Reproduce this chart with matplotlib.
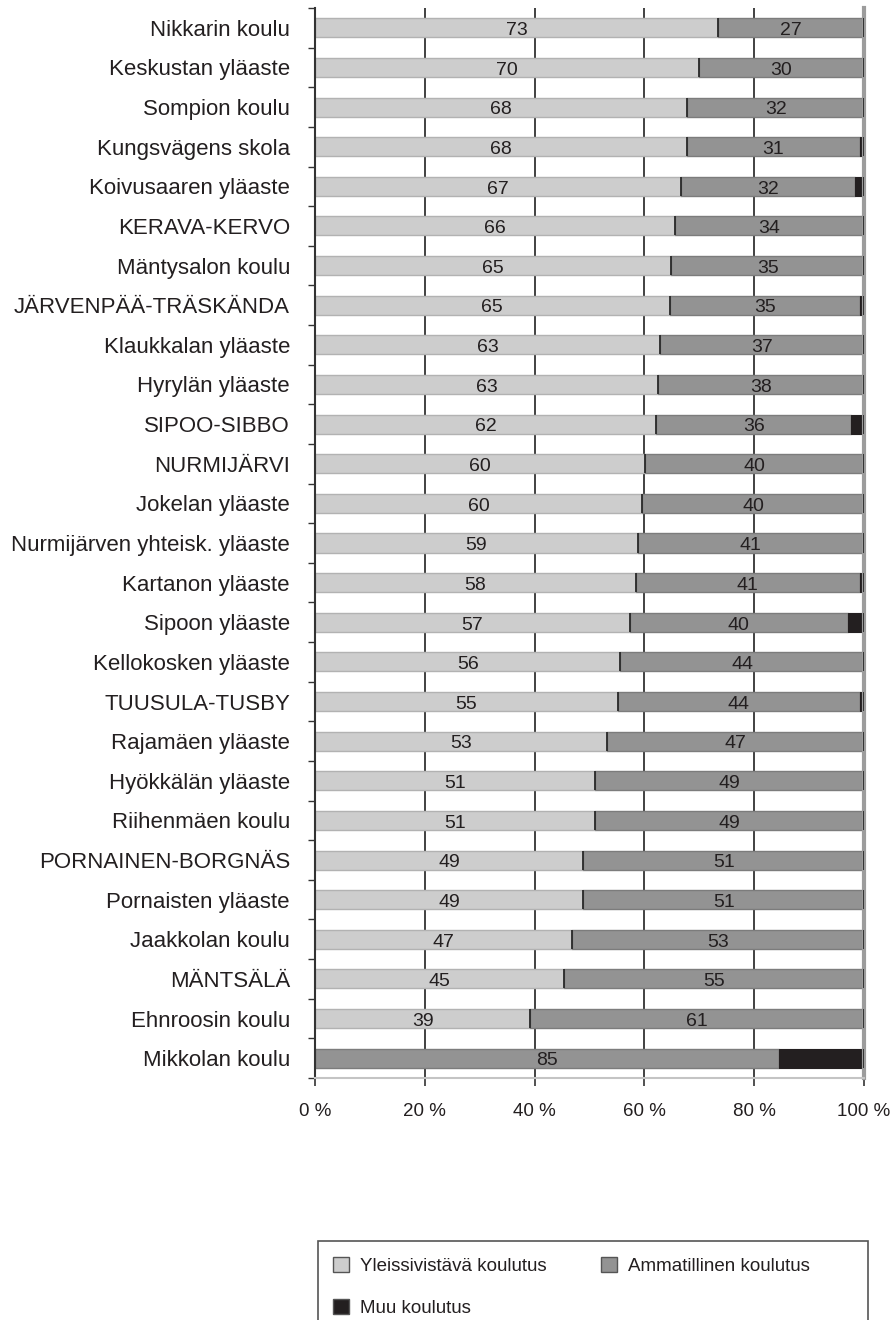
import matplotlib

matplotlib.use("Agg")
import matplotlib.pyplot as plt
from matplotlib.patches import Patch, Rectangle

plt.rcParams["font.family"] = ["Liberation Sans", "DejaVu Sans"]

schools = [
    "Nikkarin koulu",
    "Keskustan yläaste",
    "Sompion koulu",
    "Kungsvägens skola",
    "Koivusaaren yläaste",
    "KERAVA-KERVO",
    "Mäntysalon koulu",
    "JÄRVENPÄÄ-TRÄSKÄNDA",
    "Klaukkalan yläaste",
    "Hyrylän yläaste",
    "SIPOO-SIBBO",
    "NURMIJÄRVI",
    "Jokelan yläaste",
    "Nurmijärven yhteisk. yläaste",
    "Kartanon yläaste",
    "Sipoon yläaste",
    "Kellokosken yläaste",
    "TUUSULA-TUSBY",
    "Rajamäen yläaste",
    "Hyökkälän yläaste",
    "Riihenmäen koulu",
    "PORNAINEN-BORGNÄS",
    "Pornaisten yläaste",
    "Jaakkolan koulu",
    "MÄNTSÄLÄ",
    "Ehnroosin koulu",
    "Mikkolan koulu",
]
general = [73.4, 69.9, 67.8, 67.8, 66.6, 65.6, 64.9, 64.6, 62.9, 62.5, 62.1,
           60.1, 59.6, 58.8, 58.4, 57.3, 55.6, 55.2, 53.2, 51.0, 51.0, 48.9,
           48.9, 46.8, 45.4, 39.2, 0.0]
vocational = [26.6, 30.1, 32.2, 31.4, 31.8, 34.4, 35.1, 34.6, 37.1, 37.5, 35.6,
              39.9, 40.4, 41.2, 40.8, 39.7, 44.4, 44.0, 46.8, 49.0, 49.0, 51.1,
              51.1, 53.2, 54.6, 60.8, 84.6]
other = [0.0, 0.0, 0.0, 0.8, 1.6, 0.0, 0.0, 0.8, 0.0, 0.0, 2.3,
         0.0, 0.0, 0.0, 0.8, 3.0, 0.0, 0.8, 0.0, 0.0, 0.0, 0.0,
         0.0, 0.0, 0.0, 0.0, 15.4]
series_names = ["Yleissivistävä koulutus", "Ammatillinen koulutus", "Muu koulutus"]
x_ticks = [0, 20, 40, 60, 80, 100]

TEXT = "#231f20"
C_GEN = "#cdcdcd"
C_VOC = "#939393"
C_OTH = "#231f20"
BAR_H = 0.48


def half_up(v):
    return str(int(v + 0.5))


fig = plt.figure(figsize=(8.95, 13.2), dpi=100)
ax = fig.add_axes([315 / 895, 242 / 1320, 549 / 895, 1070 / 1320])

ypos = list(range(len(schools)))
voc_left = general
oth_left = [g + v for g, v in zip(general, vocational)]
ends = [g + v + o for g, v, o in zip(general, vocational, other)]

ax.barh(ypos, general, height=BAR_H, color=C_GEN, edgecolor="#b2b2b2", linewidth=1, zorder=2)
ax.barh(ypos, vocational, left=voc_left, height=BAR_H, color=C_VOC, edgecolor="#7c7c7c",
        linewidth=1, zorder=2)
ax.barh(ypos, other, left=oth_left, height=BAR_H, color=C_OTH, edgecolor=C_OTH,
        linewidth=0.8, zorder=2)

# dark dividers between segments and at the bar ends
div_y = [y for y, g in zip(ypos, general) if g > 0]
div_x = [g for g in general if g > 0]
ax.vlines(div_x, [y - BAR_H / 2 for y in div_y], [y + BAR_H / 2 for y in div_y],
          color="#2a2a2a", linewidth=1.3, zorder=3)
ax.vlines(ends, [y - BAR_H / 2 for y in ypos], [y + BAR_H / 2 for y in ypos],
          color="#2a2a2a", linewidth=1.3, zorder=3)

for y, g, v in zip(ypos, general, vocational):
    if g > 0:
        ax.text(g / 2, y + 0.07, half_up(g), ha="center", va="center", fontsize=14,
                color=TEXT, zorder=4)
    if v > 0:
        ax.text(g + v / 2, y + 0.07, half_up(v), ha="center", va="center", fontsize=14,
                color=TEXT, zorder=4)

ax.set_xlim(0, 100)
ax.set_ylim(len(schools) - 0.5, -0.5)
ax.set_xticks(x_ticks)
ax.set_xticklabels([f"{t} %" for t in x_ticks], fontsize=13.5, color=TEXT)
ax.set_yticks(ypos)
ax.set_yticklabels(schools, fontsize=16, color=TEXT)
ax.set_yticks([y - 0.5 for y in ypos] + [len(schools) - 0.5], minor=True)

ax.tick_params(axis="y", which="major", length=0, pad=18)
ax.tick_params(axis="y", which="minor", length=5, width=1, color="#333333", direction="out")
ax.tick_params(axis="x", length=6, width=1.2, color="#333333", pad=12)

ax.grid(axis="x", color="#333333", linewidth=1.3, zorder=0)
ax.set_axisbelow(True)

ax.spines["top"].set_visible(False)
ax.spines["left"].set_color("#333333")
ax.spines["left"].set_linewidth(1.5)
ax.spines["right"].set_color("#9c9c9c")
ax.spines["right"].set_linewidth(3)
ax.spines["bottom"].set_color("#c4c4c4")
ax.spines["bottom"].set_linewidth(1.5)

# legend box (runs off the bottom edge as in the original)
fig.patches.append(Rectangle((318 / 895, -0.02), 550 / 895, 79 / 1320 + 0.02,
                             transform=fig.transFigure, fill=False,
                             edgecolor="#555555", linewidth=1.2))
handles = [
    Patch(facecolor=C_GEN, edgecolor="#555555", label=series_names[0]),
    Patch(facecolor=C_OTH, edgecolor="#555555", label=series_names[2]),
    Patch(facecolor=C_VOC, edgecolor="#555555", label=series_names[1]),
]
fig.legend(handles=handles, ncol=2, loc="upper left",
           bbox_to_anchor=(333 / 895, (1320 - 1257) / 1320),
           frameon=False, fontsize=13.5, borderaxespad=0, borderpad=0,
           handlelength=0.85, handleheight=0.85, handletextpad=0.6,
           columnspacing=2.9, labelspacing=1.3, labelcolor=TEXT)

fig.savefig("out.png", dpi=100)
